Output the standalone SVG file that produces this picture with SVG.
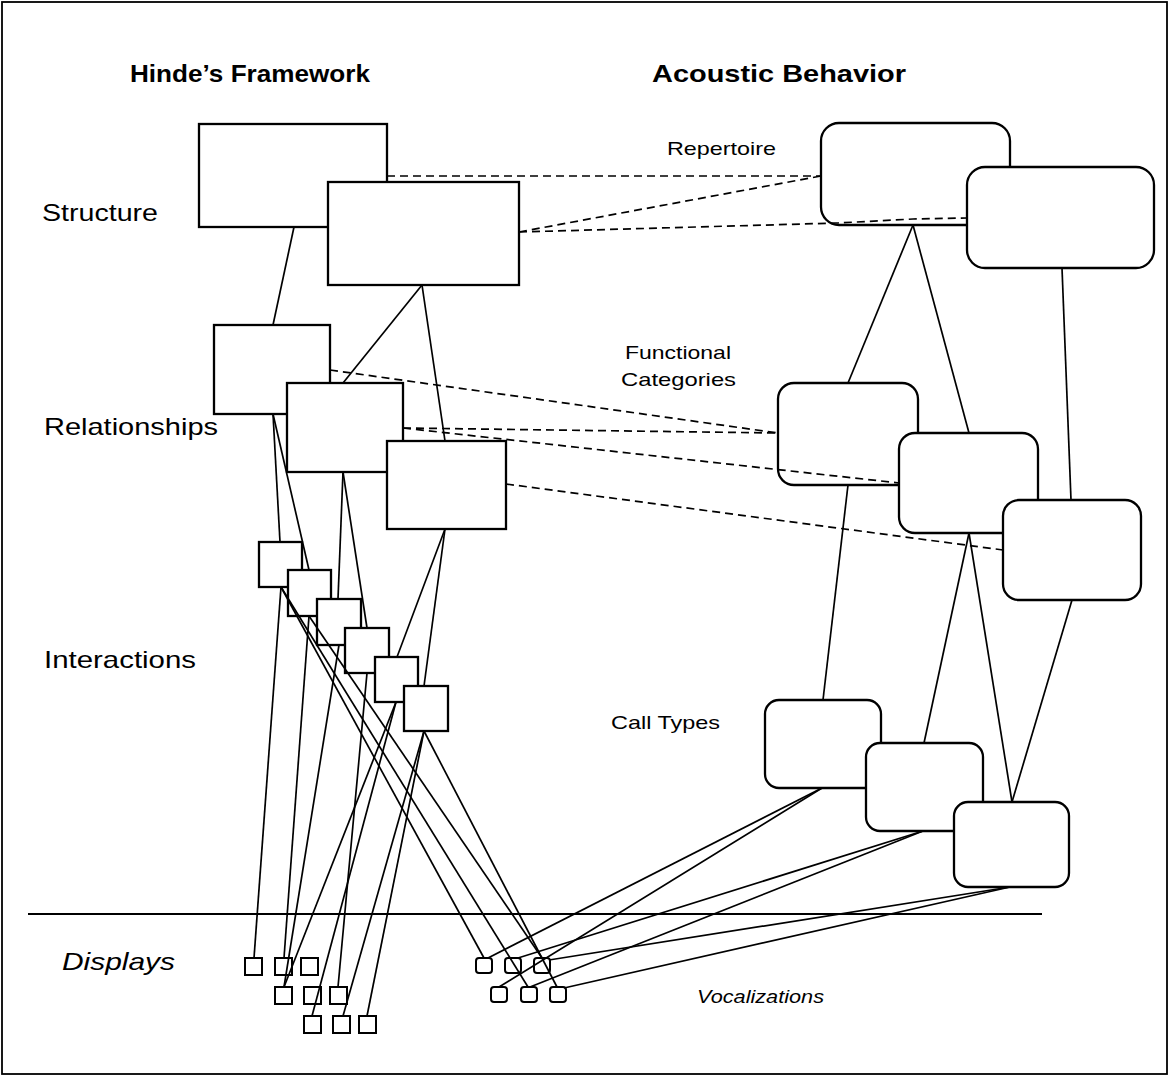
<svg xmlns="http://www.w3.org/2000/svg" width="1169" height="1076" viewBox="0 0 1169 1076">
<style>
.bx{fill:#fff;stroke:#000;stroke-width:2.3}
.sm{fill:#fff;stroke:#000;stroke-width:2}
.ln{stroke:#000;stroke-width:1.7;fill:none}
.ds{stroke:#000;stroke-width:1.7;fill:none;stroke-dasharray:8 5}
.t{font-family:"Liberation Sans",Arial,sans-serif;fill:#000}
.h{font-size:24px;font-weight:bold}
.l{font-size:24px}
.s{font-size:19px}
.i{font-style:italic}
</style>
<rect x="2" y="2" width="1165" height="1072" fill="#fff" stroke="#000" stroke-width="1.8"/>
<g id="labels">
<text class="t h" x="130" y="82" textLength="240" lengthAdjust="spacingAndGlyphs">Hinde’s Framework</text>
<text class="t h" x="652" y="82" textLength="254" lengthAdjust="spacingAndGlyphs">Acoustic Behavior</text>
<text class="t l" x="42" y="221" textLength="116" lengthAdjust="spacingAndGlyphs">Structure</text>
<text class="t l" x="44" y="435" textLength="174" lengthAdjust="spacingAndGlyphs">Relationships</text>
<text class="t l" x="44" y="668" textLength="152" lengthAdjust="spacingAndGlyphs">Interactions</text>
<text class="t l i" x="62" y="970" textLength="113" lengthAdjust="spacingAndGlyphs">Displays</text>
<text class="t s" x="667" y="155" textLength="109" lengthAdjust="spacingAndGlyphs">Repertoire</text>
<text class="t s" x="625" y="359" textLength="106" lengthAdjust="spacingAndGlyphs">Functional</text>
<text class="t s" x="621" y="386" textLength="115" lengthAdjust="spacingAndGlyphs">Categories</text>
<text class="t s" x="611" y="729" textLength="109" lengthAdjust="spacingAndGlyphs">Call Types</text>
<text class="t s i" x="697" y="1003" textLength="127" lengthAdjust="spacingAndGlyphs">Vocalizations</text>
</g>
<line id="divider" x1="28" y1="914" x2="1042" y2="914" stroke="#000" stroke-width="2"/>
<g id="structure-1"><rect class="bx" x="199" y="124" width="188" height="103"/></g>
<g id="structure-2"><rect class="bx" x="328" y="182" width="191" height="103"/></g>
<g id="relationship-1"><rect class="bx" x="214" y="325" width="116" height="89"/></g>
<g id="relationship-2"><rect class="bx" x="287" y="383" width="116" height="89"/></g>
<g id="relationship-3"><rect class="bx" x="387" y="441" width="119" height="88"/></g>
<g id="interaction-1"><rect class="bx" x="259" y="542" width="43" height="45"/></g>
<g id="interaction-2"><rect class="bx" x="288" y="570" width="43" height="46"/></g>
<g id="interaction-3"><rect class="bx" x="317" y="599" width="44" height="46"/></g>
<g id="interaction-4"><rect class="bx" x="345" y="628" width="44" height="45"/></g>
<g id="interaction-5"><rect class="bx" x="375" y="657" width="43" height="45"/></g>
<g id="interaction-6"><rect class="bx" x="404" y="686" width="44" height="45"/></g>
<g id="repertoire-1"><rect class="bx" x="821" y="123" width="189" height="102" rx="18"/></g>
<g id="repertoire-2"><rect class="bx" x="967" y="167" width="187" height="101" rx="18"/></g>
<g id="function-1"><rect class="bx" x="778" y="383" width="140" height="102" rx="16"/></g>
<g id="function-2"><rect class="bx" x="899" y="433" width="139" height="100" rx="16"/></g>
<g id="function-3"><rect class="bx" x="1003" y="500" width="138" height="100" rx="16"/></g>
<g id="call-1"><rect class="bx" x="765" y="700" width="116" height="88" rx="14"/></g>
<g id="call-2"><rect class="bx" x="866" y="743" width="117" height="88" rx="14"/></g>
<g id="call-3"><rect class="bx" x="954" y="802" width="115" height="85" rx="14"/></g>
<g id="display-1"><rect class="sm" x="245" y="958" width="17" height="17"/></g>
<g id="display-2"><rect class="sm" x="275" y="958" width="17" height="17"/></g>
<g id="display-3"><rect class="sm" x="301" y="958" width="17" height="17"/></g>
<g id="display-4"><rect class="sm" x="275" y="987" width="17" height="17"/></g>
<g id="display-5"><rect class="sm" x="304" y="987" width="17" height="17"/></g>
<g id="display-6"><rect class="sm" x="330" y="987" width="17" height="17"/></g>
<g id="display-7"><rect class="sm" x="304" y="1016" width="17" height="17"/></g>
<g id="display-8"><rect class="sm" x="333" y="1016" width="17" height="17"/></g>
<g id="display-9"><rect class="sm" x="359" y="1016" width="17" height="17"/></g>
<g id="vocal-1"><rect class="sm" x="476" y="958" width="16" height="15" rx="3"/></g>
<g id="vocal-2"><rect class="sm" x="505" y="958" width="16" height="15" rx="3"/></g>
<g id="vocal-3"><rect class="sm" x="534" y="958" width="16" height="15" rx="3"/></g>
<g id="vocal-4"><rect class="sm" x="491" y="987" width="16" height="15" rx="3"/></g>
<g id="vocal-5"><rect class="sm" x="521" y="987" width="16" height="15" rx="3"/></g>
<g id="vocal-6"><rect class="sm" x="550" y="987" width="16" height="15" rx="3"/></g>
<g id="connectors">
<line class="ln" x1="294" y1="227" x2="273" y2="325"/>
<line class="ln" x1="422" y1="285" x2="343" y2="383"/>
<line class="ln" x1="422" y1="285" x2="445" y2="441"/>
<line class="ln" x1="273" y1="414" x2="280" y2="542"/>
<line class="ln" x1="273" y1="414" x2="309" y2="570"/>
<line class="ln" x1="343" y1="472" x2="338" y2="599"/>
<line class="ln" x1="343" y1="472" x2="367" y2="628"/>
<line class="ln" x1="445" y1="529" x2="397" y2="657"/>
<line class="ln" x1="445" y1="529" x2="424" y2="686"/>
<line class="ln" x1="281" y1="587" x2="254" y2="958"/>
<line class="ln" x1="309" y1="616" x2="284" y2="958"/>
<line class="ln" x1="339" y1="645" x2="284" y2="987"/>
<line class="ln" x1="396" y1="702" x2="284" y2="987"/>
<line class="ln" x1="367" y1="673" x2="338" y2="987"/>
<line class="ln" x1="396" y1="702" x2="312" y2="1016"/>
<line class="ln" x1="424" y1="731" x2="343" y2="1016"/>
<line class="ln" x1="424" y1="731" x2="367" y2="1016"/>
<line class="ln" x1="281" y1="587" x2="484" y2="958"/>
<line class="ln" x1="281" y1="587" x2="528" y2="987"/>
<line class="ln" x1="309" y1="616" x2="542" y2="958"/>
<line class="ln" x1="424" y1="731" x2="557" y2="987"/>
<line class="ln" x1="913" y1="225" x2="848" y2="383"/>
<line class="ln" x1="913" y1="225" x2="969" y2="433"/>
<line class="ln" x1="1062" y1="268" x2="1071" y2="500"/>
<line class="ln" x1="848" y1="485" x2="823" y2="700"/>
<line class="ln" x1="969" y1="533" x2="924" y2="743"/>
<line class="ln" x1="969" y1="533" x2="1012" y2="802"/>
<line class="ln" x1="1072" y1="600" x2="1012" y2="802"/>
<line class="ln" x1="822" y1="788" x2="488" y2="958"/>
<line class="ln" x1="822" y1="788" x2="499" y2="987"/>
<line class="ln" x1="923" y1="831" x2="518" y2="958"/>
<line class="ln" x1="923" y1="831" x2="530" y2="987"/>
<line class="ln" x1="1010" y1="887" x2="549" y2="960"/>
<line class="ln" x1="1010" y1="887" x2="564" y2="988"/>
<line class="ds" x1="387" y1="176" x2="821" y2="176"/>
<line class="ds" x1="519" y1="232" x2="821" y2="176"/>
<polyline class="ds" points="519,232 838,223 913,219 967,218"/>
<line class="ds" x1="330" y1="370" x2="778" y2="433"/>
<line class="ds" x1="403" y1="428" x2="778" y2="433"/>
<line class="ds" x1="403" y1="428" x2="899" y2="483"/>
<line class="ds" x1="506" y1="484" x2="1003" y2="550"/>
</g>
</svg>
